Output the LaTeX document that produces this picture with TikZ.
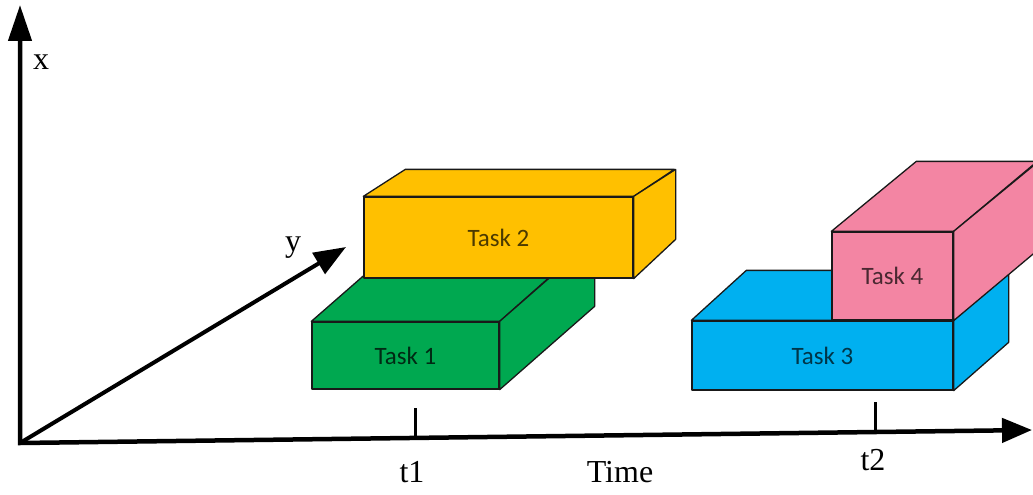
\documentclass[tikz,border=0pt]{standalone}
\usepackage{fontspec}
\setmainfont{Liberation Serif}
\newfontfamily\boxfont{Carlito}
\usetikzlibrary{arrows.meta}

\definecolor{taskgreen}{RGB}{0,168,80}
\definecolor{taskyellow}{RGB}{255,192,0}
\definecolor{taskblue}{RGB}{0,176,240}
\definecolor{taskpink}{RGB}{243,133,163}

\begin{document}
\begin{tikzpicture}[x=1pt,y=-1pt,
  axisline/.style={line width=4.5pt, line join=miter},
  tick/.style={line width=3pt},
  face/.style={draw=black!90, line width=1.3pt, line join=round},
  front/.style={face, rectangle, inner sep=0pt,
    font=\boxfont\fontsize{25}{30}\selectfont},
  lbl/.style={font=\fontsize{32}{38}\selectfont, inner sep=0pt}
]
\useasboundingbox (0,0) rectangle (1033,495);
\clip (0,0) rectangle (1033,495);

% axes
\coordinate (O) at (20,443);
\coordinate (xtip) at (20,5);
\coordinate (ytip) at (346,247);
\coordinate (ttip) at (1032,430);
\draw[axisline, {Triangle[length=36pt,width=23pt]}-{Triangle[length=30pt,width=24pt]}]
  (xtip) -- (O) -- (ttip);
\draw[line width=4pt, -{Triangle[length=32pt,width=24pt]}] (O) -- (ytip);

% time marks
\coordinate (m1top) at (415,408);
\coordinate (m1bot) at (415,438);
\coordinate (m2top) at (875,402);
\coordinate (m2bot) at (875,432);
\draw[tick] (m1top) -- (m1bot);
\draw[tick] (m2top) -- (m2bot);

% axis labels
\node[lbl] (xl) at (41,62) {x};
\node[lbl] (yl) at (293,248) {y};
\node[lbl, anchor=base] (t1l) at (412,482) {t1};
\node[lbl, anchor=base] (t2l) at (873,470) {t2};
\node[lbl, anchor=base] (timel) at (620,482) {Time};

% Task 1
\node[front, fill=taskgreen, text=taskgreen!25!black,
  minimum width=187pt, minimum height=67pt] (g) at (405.5,355.5) {Task 1};
\draw[face, fill=taskgreen] (g.north west) -- ++(95,-83) -- ++(187,0)
  -- (g.north east) -- cycle;
\draw[face, fill=taskgreen] (g.north east) -- ++(95,-83) -- ++(0,68)
  -- (g.south east) -- cycle;

% Task 2
\node[front, fill=taskyellow, text=taskyellow!30!black,
  minimum width=269pt, minimum height=81pt] (yb) at (498.5,237.5) {Task 2};
\draw[face, fill=taskyellow] (yb.north west) -- ++(42,-27) -- ++(269,0)
  -- (yb.north east) -- cycle;
\draw[face, fill=taskyellow] (yb.north east) -- ++(42,-27) -- ++(0,70)
  -- (yb.south east) -- cycle;

% Task 3
\node[front, fill=taskblue, text=taskblue!30!black,
  minimum width=261pt, minimum height=69pt] (b) at (822.5,355.5) {Task 3};
\draw[face, fill=taskblue] (b.north west) -- ++(55,-50) -- ++(261,0)
  -- (b.north east) -- cycle;
\draw[face, fill=taskblue] (b.north east) -- ++(55,-50) -- ++(0,72)
  -- (b.south east) -- cycle;

% Task 4
\node[front, fill=taskpink, text=taskpink!30!black,
  minimum width=121pt, minimum height=88pt] (p) at (892.5,276) {Task 4};
\draw[face, fill=taskpink] (p.north west) -- ++(85,-70) -- ++(121,0)
  -- (p.north east) -- cycle;
\draw[face, fill=taskpink] (p.north east) -- ++(85,-70) -- ++(0,88)
  -- (p.south east) -- cycle;
\end{tikzpicture}
\end{document}
